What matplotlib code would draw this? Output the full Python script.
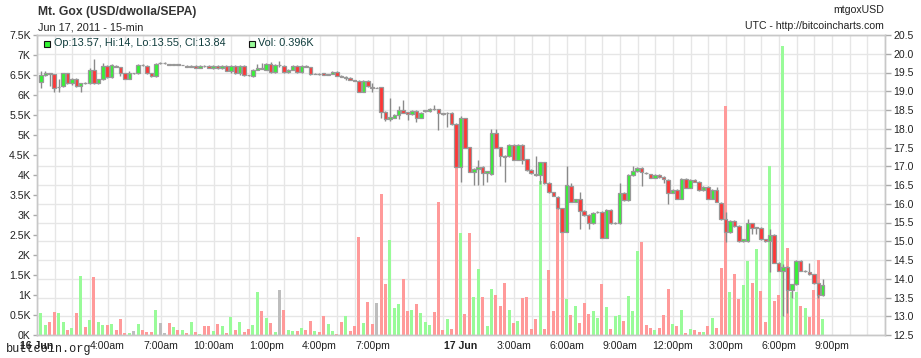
import numpy as np
import matplotlib
matplotlib.use("Agg")
import matplotlib.pyplot as plt
from matplotlib.transforms import blended_transform_factory
from matplotlib.lines import Line2D
from matplotlib.patches import Rectangle

# ---------------- data (15-min candles, 16-17 Jun 2011) ----------------
opens = [19.24, 19.43, 19.48, 19.45, 19.11, 19.14, 19.48, 19.21, 19.33, 19.14,
         19.22, 19.21, 19.58, 19.21, 19.32, 19.67, 19.37, 19.68, 19.64, 19.48,
         19.34, 19.48, 19.48, 19.70, 19.67, 19.48, 19.41, 19.75, 19.75, 19.73,
         19.70, 19.73, 19.70, 19.68, 19.65, 19.68, 19.63, 19.68, 19.68, 19.61,
         19.68, 19.61, 19.68, 19.55, 19.68, 19.48, 19.68, 19.43, 19.41, 19.58,
         19.61, 19.58, 19.74, 19.52, 19.69, 19.68, 19.52, 19.58, 19.68, 19.52,
         19.68, 19.64, 19.46, 19.47, 19.48, 19.44, 19.46, 19.52, 19.41, 19.36,
         19.36, 19.30, 19.28, 18.99, 19.28, 19.12, 19.10, 19.10, 18.45, 18.25,
         18.30, 18.37, 18.50, 18.44, 18.39, 18.48, 18.30, 18.47, 18.48, 18.54,
         18.52, 18.41, 18.42, 18.43, 18.13, 16.99, 18.28, 17.50, 16.86, 16.92,
         16.99, 16.81, 16.79, 17.88, 17.50, 17.27, 17.27, 17.58, 17.18, 17.58,
         17.18, 16.90, 16.79, 16.77, 17.10, 16.55, 16.30, 16.19, 15.88, 15.26,
         16.48, 16.06, 16.12, 15.81, 15.70, 15.48, 15.77, 15.79, 15.10, 15.83,
         15.48, 15.48, 16.30, 16.10, 16.77, 16.88, 16.96, 16.83, 16.78, 16.70,
         16.77, 16.72, 16.63, 16.30, 16.37, 16.14, 16.66, 16.43, 16.63, 16.59,
         16.37, 16.46, 16.14, 16.38, 16.03, 15.59, 15.24, 15.55, 15.41, 15.01,
         15.01, 15.48, 15.36, 15.36, 15.05, 15.00, 15.18, 14.43, 14.22, 14.32,
         13.70, 13.85, 14.47, 14.20, 14.19, 14.12, 13.88, 13.57]
highs = [19.55, 19.55, 19.50, 19.47, 19.34, 19.50, 19.50, 19.36, 19.36, 19.23,
         19.24, 19.61, 19.85, 19.34, 19.75, 19.70, 19.72, 19.70, 19.66, 19.50,
         19.55, 19.50, 19.72, 19.72, 19.69, 19.50, 19.76, 19.78, 19.77, 19.74,
         19.74, 19.74, 19.71, 19.69, 19.69, 19.69, 19.69, 19.69, 19.69, 19.69,
         19.69, 19.69, 19.69, 19.69, 19.69, 19.69, 19.69, 19.44, 19.60, 19.72,
         19.75, 19.76, 19.77, 19.72, 19.80, 19.70, 19.60, 19.70, 19.70, 19.70,
         19.69, 19.66, 19.48, 19.48, 19.49, 19.47, 19.53, 19.53, 19.42, 19.40,
         19.37, 19.31, 19.30, 19.30, 19.30, 19.23, 19.12, 19.12, 18.47, 18.82,
         18.39, 18.60, 18.78, 18.46, 18.50, 18.50, 18.45, 18.50, 18.56, 18.63,
         18.54, 18.42, 18.45, 18.45, 18.15, 18.33, 18.30, 17.52, 16.95, 17.17,
         17.01, 16.88, 17.99, 17.99, 17.52, 17.29, 17.60, 17.60, 17.60, 17.60,
         17.20, 16.92, 17.27, 17.12, 17.12, 16.57, 16.32, 16.21, 15.90, 17.01,
         16.56, 16.14, 16.32, 15.83, 15.72, 15.78, 15.81, 15.81, 15.85, 15.85,
         15.51, 16.56, 16.32, 16.79, 17.01, 16.98, 16.98, 16.85, 16.80, 16.79,
         16.79, 16.74, 16.65, 16.39, 16.39, 16.68, 16.68, 16.65, 16.65, 16.61,
         16.48, 16.48, 16.40, 16.46, 16.05, 15.79, 15.57, 15.57, 15.43, 15.07,
         15.59, 15.50, 15.39, 15.38, 15.07, 15.34, 15.20, 14.45, 14.40, 14.34,
         13.87, 14.49, 14.49, 14.24, 14.41, 14.14, 13.90, 14.00]
lows = [19.10, 19.41, 19.13, 18.99, 18.99, 19.12, 19.19, 19.18, 19.12, 18.99,
        19.19, 19.19, 19.19, 19.19, 19.30, 19.35, 19.35, 19.64, 19.40, 19.32,
        19.32, 19.47, 19.46, 19.68, 19.46, 19.39, 19.39, 19.73, 19.72, 19.69,
        19.69, 19.69, 19.69, 19.65, 19.64, 19.62, 19.62, 19.66, 19.62, 19.60,
        19.60, 19.60, 19.53, 19.50, 19.46, 19.42, 19.41, 19.40, 19.39, 19.57,
        19.59, 19.56, 19.50, 19.50, 19.66, 19.50, 19.50, 19.56, 19.50, 19.50,
        19.64, 19.44, 19.45, 19.44, 19.43, 19.43, 19.45, 19.40, 19.38, 19.30,
        19.29, 19.27, 18.97, 18.97, 19.12, 18.99, 19.08, 18.30, 18.22, 18.22,
        18.28, 18.25, 18.41, 18.23, 18.37, 18.19, 18.28, 18.46, 18.46, 18.51,
        17.98, 18.38, 18.06, 18.11, 16.97, 16.59, 17.48, 16.84, 16.50, 16.50,
        16.50, 16.59, 16.77, 17.48, 17.01, 16.59, 17.25, 17.16, 17.16, 17.05,
        16.88, 16.79, 16.75, 16.52, 16.53, 16.29, 16.20, 15.86, 15.24, 15.24,
        16.04, 16.04, 15.32, 15.68, 15.34, 15.46, 15.75, 15.08, 15.08, 15.46,
        15.46, 15.46, 16.08, 16.08, 16.75, 16.86, 16.47, 16.79, 16.68, 16.68,
        16.70, 16.56, 15.99, 16.28, 16.12, 16.12, 16.41, 16.41, 16.57, 16.35,
        16.35, 16.12, 16.12, 16.04, 15.57, 14.99, 15.22, 15.39, 14.99, 14.99,
        14.99, 15.20, 15.20, 15.04, 14.98, 14.19, 14.41, 14.20, 13.01, 13.08,
        13.48, 13.83, 14.20, 14.18, 14.10, 13.86, 13.50, 13.55]
closes = [19.43, 19.48, 19.47, 19.10, 19.12, 19.48, 19.21, 19.33, 19.14, 19.21,
          19.21, 19.58, 19.21, 19.32, 19.67, 19.37, 19.70, 19.66, 19.48, 19.34,
          19.48, 19.48, 19.70, 19.69, 19.48, 19.41, 19.74, 19.75, 19.75, 19.70,
          19.73, 19.70, 19.71, 19.66, 19.68, 19.63, 19.68, 19.67, 19.63, 19.68,
          19.61, 19.68, 19.55, 19.68, 19.48, 19.68, 19.43, 19.42, 19.58, 19.61,
          19.60, 19.74, 19.52, 19.70, 19.69, 19.52, 19.58, 19.68, 19.52, 19.68,
          19.66, 19.46, 19.47, 19.46, 19.44, 19.46, 19.52, 19.41, 19.39, 19.37,
          19.30, 19.28, 18.99, 19.28, 19.14, 19.10, 19.10, 18.45, 18.25, 18.30,
          18.37, 18.50, 18.43, 18.39, 18.48, 18.30, 18.43, 18.49, 18.54, 18.53,
          18.43, 18.40, 18.43, 18.13, 16.99, 18.28, 17.50, 16.86, 16.92, 16.99,
          16.81, 16.86, 17.88, 17.50, 17.27, 17.25, 17.58, 17.18, 17.58, 17.18,
          16.90, 16.81, 16.77, 17.10, 16.55, 16.31, 16.22, 15.88, 15.26, 16.50,
          16.06, 16.12, 15.81, 15.70, 15.48, 15.76, 15.79, 15.10, 15.83, 15.48,
          15.49, 16.30, 16.10, 16.77, 16.88, 16.96, 16.86, 16.81, 16.70, 16.77,
          16.72, 16.66, 16.30, 16.37, 16.14, 16.66, 16.43, 16.63, 16.59, 16.37,
          16.46, 16.14, 16.38, 16.06, 15.59, 15.24, 15.55, 15.41, 15.01, 15.05,
          15.48, 15.36, 15.37, 15.06, 15.00, 15.18, 14.43, 14.22, 14.32, 13.70,
          13.85, 14.47, 14.22, 14.22, 14.12, 13.88, 13.57, 13.84]
volumes_k = [0.54, 0.25, 0.33, 0.58, 0.55, 0.33, 0.13, 0.18, 0.55, 1.48,
             0.20, 0.38, 1.45, 0.33, 0.25, 0.25, 0.28, 0.13, 0.40, 0.05,
             0.05, 0.10, 0.28, 0.13, 0.08, 0.08, 0.63, 0.30, 0.05, 0.30,
             0.20, 0.13, 0.13, 0.05, 0.33, 0.08, 0.03, 0.23, 0.23, 0.10,
             0.28, 0.23, 0.05, 0.45, 0.13, 0.33, 0.08, 0.15, 0.25, 1.08,
             0.60, 0.43, 0.30, 0.08, 1.13, 0.63, 0.13, 0.10, 0.10, 0.18,
             0.13, 0.35, 0.10, 0.08, 0.48, 0.28, 0.10, 0.03, 0.33, 0.48,
             0.10, 0.23, 2.45, 0.30, 0.83, 0.28, 0.80, 3.53, 1.28, 2.38,
             0.68, 0.78, 1.40, 0.60, 0.63, 0.78, 0.55, 0.33, 0.25, 0.58,
             3.33, 0.13, 0.40, 0.15, 4.60, 2.55, 0.53, 2.55, 0.95, 1.65,
             0.95, 0.23, 1.15, 1.00, 0.73, 1.30, 0.63, 0.30, 0.35, 0.93,
             0.95, 0.15, 0.40, 3.85, 0.15, 1.63, 0.60, 3.35, 2.90, 0.90,
             0.50, 0.73, 0.30, 0.80, 0.53, 0.60, 0.43, 1.28, 0.70, 0.15,
             0.48, 0.50, 0.35, 0.98, 0.60, 2.10, 2.33, 0.25, 0.18, 0.13,
             0.18, 0.50, 1.15, 0.28, 0.23, 0.63, 0.05, 0.15, 0.13, 0.08,
             0.08, 0.23, 0.43, 0.18, 1.68, 5.73, 1.08, 1.53, 0.90, 1.25,
             1.85, 1.30, 2.15, 1.10, 0.33, 4.23, 0.85, 1.00, 7.23, 2.18,
             1.08, 1.08, 0.73, 0.68, 0.45, 1.13, 1.88, 0.40]

price_ticks = [12.5, 13.0, 13.5, 14.0, 14.5, 15.0, 15.5, 16.0, 16.5,
               17.0, 17.5, 18.0, 18.5, 19.0, 19.5, 20.0, 20.5]
price_tick_labels = ["12.5", "13.0", "13.5", "14.0", "14.5", "15.0", "15.5", "16.0", "16.5",
                     "17.0", "17.5", "18.0", "18.5", "19.0", "19.5", "20.0", "20.5"]
volume_ticks = [0, 0.5, 1, 1.5, 2, 2.5, 3, 3.5, 4, 4.5, 5, 5.5, 6, 6.5, 7, 7.5]
volume_tick_labels = ["0K", "0.5K", "1K", "1.5K", "2K", "2.5K", "3K", "3.5K",
                      "4K", "4.5K", "5K", "5.5K", "6K", "6.5K", "7K", "7.5K"]
time_tick_hours = [0, 4, 7, 10, 13, 16, 19, 24, 27, 30, 33, 36, 39, 42, 45]
time_tick_labels = ["16 Jun", "4:00am", "7:00am", "10:00am", "1:00pm", "4:00pm", "7:00pm",
                    "17 Jun", "3:00am", "6:00am", "9:00am", "12:00pm", "3:00pm", "6:00pm", "9:00pm"]
legend_text = "Op:13.57, Hi:14, Lo:13.55, Cl:13.84"
legend_vol_text = "Vol: 0.396K"

# ---------------- figure ----------------
W, H = 921, 358
fig = plt.figure(figsize=(W / 100, H / 100), dpi=100)
FONT = "Liberation Sans"
plt.rcParams["font.family"] = [FONT, "DejaVu Sans"]

L, R, T, B = 37, 885, 35, 335
ax_vol = fig.add_axes([L / W, 1 - B / H, (R - L) / W, (B - T) / H])
ax_px = ax_vol.twinx()
ax_px.set_zorder(ax_vol.get_zorder() + 1)
ax_px.patch.set_visible(False)

O = np.array(opens); C = np.array(closes)
Hi = np.array(highs); Lo = np.array(lows)
V = np.array(volumes_k)
n = len(O)
t = 0.225 + 0.25 * np.arange(n)

ax_vol.set_xlim(0, 48)
ax_vol.set_ylim(0, 7.5)
ax_px.set_ylim(12.5, 20.5)

# grid (behind everything)
grid_c = "#e6e6e6"
for h in range(0, 49):
    ax_vol.axvline(h, color=grid_c, lw=1, zorder=0)
btf = blended_transform_factory(ax_vol.transAxes, ax_px.transData)
for p in price_ticks:
    ax_vol.add_line(Line2D([0, 1], [p, p], transform=btf, color=grid_c, lw=1, zorder=0))

# volume bars
green_v, red_v, gray_v = "#99fb99", "#ff9a9a", "#bdbdbd"
vcol = np.where(C > O, green_v, np.where(C < O, red_v, gray_v))
ax_vol.bar(t, V, width=0.17, color=vcol, linewidth=0, zorder=2)

# candles
green_c, red_c = "#33f533", "#ff3636"
ccol = np.where(C >= O, green_c, red_c)
ax_px.vlines(t, Lo, Hi, color="#8a8a8a", lw=1, zorder=2)
ax_px.bar(t, np.abs(C - O), bottom=np.minimum(O, C), width=0.2, color=ccol,
          edgecolor="#989898", linewidth=0.9, zorder=3)

# axes styling
spine_c = "#c8c8c8"
for a in (ax_vol, ax_px):
    for s in a.spines.values():
        s.set_color(spine_c)
        s.set_linewidth(1)

ax_vol.set_xticks(time_tick_hours)
ax_vol.set_xticklabels(time_tick_labels)
ax_vol.tick_params(axis="x", length=0, pad=4, labelsize=7.6, labelcolor="#222222")
for lab in ax_vol.get_xticklabels():
    if "Jun" in lab.get_text():
        lab.set_fontweight("bold")

ax_vol.set_yticks(volume_ticks)
ax_vol.set_yticklabels(volume_tick_labels)
ax_vol.tick_params(axis="y", length=3, width=1, color="#aaaaaa", pad=1.5,
                   labelsize=7.6, labelcolor="#222222")

ax_px.set_yticks(price_ticks)
ax_px.set_yticklabels(price_tick_labels)
ax_px.tick_params(axis="y", length=4, width=1, color="#aaaaaa", pad=2,
                  labelsize=7.6, labelcolor="#222222")

# ---------------- texts ----------------
def fx(px):
    return px / W

def fy(py):
    return 1 - py / H

fig.text(fx(38), fy(11.5), "Mt. Gox (USD/dwolla/SEPA)", fontsize=8.7, fontweight="bold",
         color="#333333", va="center", ha="left")
fig.text(fx(38), fy(28), "Jun 17, 2011 - 15-min", fontsize=7.8, color="#222222",
         va="center", ha="left")
fig.text(fx(884), fy(10), "mtgoxUSD", fontsize=7.6, color="#222222", va="center", ha="right")
fig.text(fx(884), fy(26), "UTC - http://bitcoincharts.com", fontsize=7.6, color="#222222",
         va="center", ha="right")

# legend
fig.patches.append(Rectangle((fx(44), fy(47)), 6 / W, 6 / H, transform=fig.transFigure,
                             facecolor=green_c, edgecolor="#111111", lw=0.8, zorder=5))
fig.text(fx(54), fy(43.5), legend_text, fontsize=7.8, color="#0f3c3c", va="center", ha="left")
fig.patches.append(Rectangle((fx(249), fy(47)), 6 / W, 6 / H, transform=fig.transFigure,
                             facecolor=green_v, edgecolor="#111111", lw=0.8, zorder=5))
fig.text(fx(258), fy(43.5), legend_vol_text, fontsize=7.8, color="#0f3c3c", va="center", ha="left")

# watermark (overlaps the first date label, as in the reference)
fig.text(fx(6), fy(349), "buttcoin.org", family="Liberation Mono", fontsize=8.6,
         color="#222222", va="center", ha="left", zorder=10)

fig.savefig("out.png", dpi=100)
